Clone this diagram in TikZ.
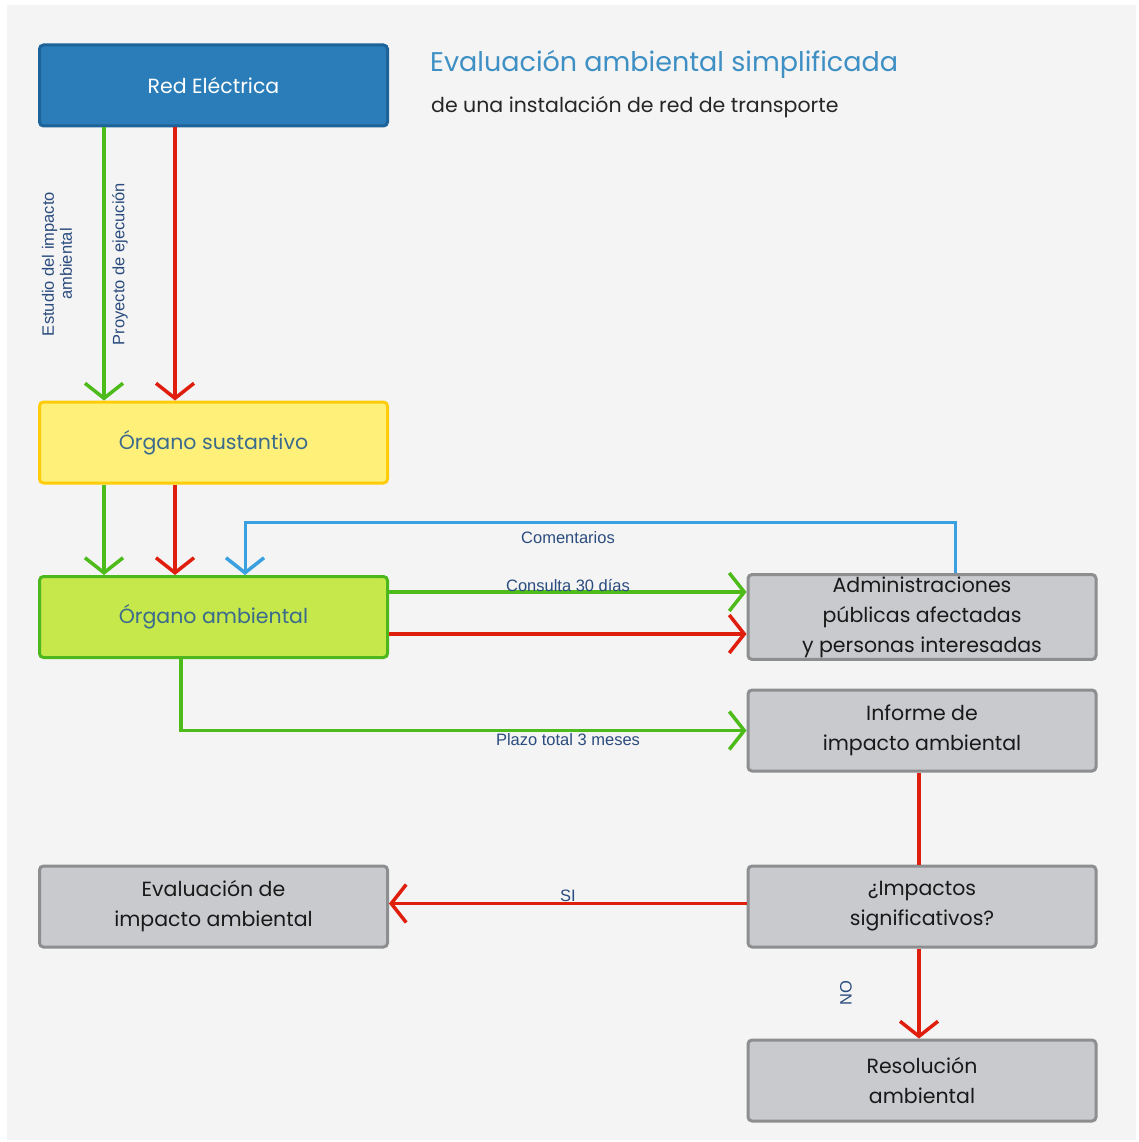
\documentclass[tikz,border=0pt]{standalone}
\usepackage{fontspec}
\setmainfont{Poppins}
\newfontfamily\lblfont{Liberation Sans}
\usetikzlibrary{arrows.meta}
\definecolor{bgc}{HTML}{F4F4F4}
\definecolor{refill}{HTML}{2A7DB8}
\definecolor{redraw}{HTML}{1D6399}
\definecolor{osfill}{HTML}{FFF07A}
\definecolor{osdraw}{HTML}{FFCC0A}
\definecolor{oafill}{HTML}{C6E84A}
\definecolor{oadraw}{HTML}{4CB81C}
\definecolor{gyfill}{HTML}{C8CACD}
\definecolor{gydraw}{HTML}{8C8E90}
\definecolor{boxtxt}{HTML}{3A6A8C}
\definecolor{lbltxt}{HTML}{2B4C7E}
\definecolor{ttl}{HTML}{3D8FC4}
\definecolor{cgreen}{HTML}{4DBB1A}
\definecolor{cred}{HTML}{E01E0E}
\definecolor{cblue}{HTML}{3AA0E0}
\tikzset{
  box/.style={draw, rounded corners=4pt, line width=3pt, minimum width=348pt,
    minimum height=81pt, align=center, inner sep=2pt, font=\fontsize{20.5}{30}\selectfont},
  rebox/.style={box, fill=refill, draw=redraw, text=white},
  osbox/.style={box, fill=osfill, draw=osdraw, text=boxtxt},
  oabox/.style={box, fill=oafill, draw=oadraw, text=boxtxt},
  gybox/.style={box, fill=gyfill, draw=gydraw, text=black!90},
  conn/.style={line width=3.5pt, -{Straight Barb[length=15pt,width=38pt,line width=3.5pt]}},
  plain/.style={line width=3.5pt},
  lbl/.style={font=\lblfont\fontsize{16.5}{18}\selectfont, text=lbltxt, inner sep=1pt, align=center}
}
\begin{document}
\begin{tikzpicture}[x=1pt,y=-1pt]
\useasboundingbox (0,0) rectangle (1138,1142);
\fill[white] (0,0) rectangle (1138,1142);
\fill[bgc] (7,5) rectangle (1136,1140);

\node[rebox] (re) at (213.5,85.5) {Red Eléctrica};
\node[osbox] (os) at (213.5,442.5) {Órgano sustantivo};
\node[oabox] (oa) at (213.5,617) {Órgano ambiental};
\node[gybox] (adm) at (922,617) {Administraciones\\públicas afectadas\\y personas interesadas};
\node[gybox] (inf) at (922,730.5) {Informe de\\impacto ambiental};
\node[gybox] (eva) at (213.5,906.5) {Evaluación de\\impacto ambiental};
\node[gybox] (imp) at (922,906.5) {¿Impactos\\significativos?};
\node[gybox] (res) at (922,1080.5) {Resolución\\ambiental};

\node[anchor=west, text=ttl, font=\fontsize{27}{30}\selectfont, inner sep=0pt] (title) at (430,64) {Evaluación ambiental simplificada};
\node[anchor=west, text=black!85, font=\fontsize{20.5}{24}\selectfont, inner sep=0pt] (sub) at (431,107) {de una instalación de red de transporte};

% top arrows
\draw[conn, cgreen] ([xshift=66pt]re.south west) -- ([xshift=66pt]os.north west);
\draw[conn, cred] ([xshift=137pt]re.south west) -- ([xshift=137pt]os.north west);
\draw[conn, cgreen] ([xshift=66pt]os.south west) -- ([xshift=66pt]oa.north west);
\draw[conn, cred] ([xshift=137pt]os.south west) -- ([xshift=137pt]oa.north west);

% comentarios
\coordinate (cb) at (245,522);
\draw[conn, cblue, line width=3pt] ([xshift=-142pt]adm.north east) |- (cb) -- (cb |- oa.north);

% consulta
\draw[conn, cgreen] ([yshift=25pt]oa.east) -- ([yshift=25pt]oa.east -| adm.west);
\draw[conn, cred] ([yshift=-17pt]oa.east) -- ([yshift=-17pt]oa.east -| adm.west);

% plazo
\draw[conn, cgreen] ([xshift=143pt]oa.south west) |- (inf.west);

% lower
\draw[plain, cred] ([xshift=-3pt]inf.south) -- ([xshift=-3pt]imp.north);
\draw[conn, cred] ([yshift=3pt]imp.west) -- ([yshift=3pt]eva.east);
\draw[conn, cred] ([xshift=-3pt]imp.south) -- ([xshift=-3pt]res.north);

% labels
\node[lbl, rotate=90] (l1) at (57,264) {Estudio del impacto\\ambiental};
\node[lbl, rotate=90] (l2) at (120,264) {Proyecto de ejecución};
\node[lbl] (l3) at (568,538) {Comentarios};
\node[lbl] (l4) at (568,585) {Consulta 30 días};
\node[lbl] (l5) at (568,740) {Plazo total 3 meses};
\node[lbl] (l6) at (568,896) {SI};
\node[lbl, rotate=90] (l7) at (846,993) {NO};
\end{tikzpicture}
\end{document}
